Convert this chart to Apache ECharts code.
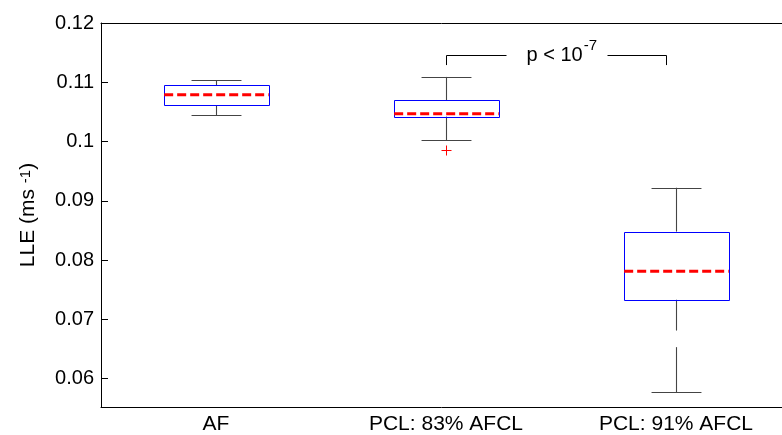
<!DOCTYPE html>
<html><head><meta charset="utf-8">
<script src="https://cdn.jsdelivr.net/npm/echarts@6/dist/echarts.min.js"></script>
<style>html,body{margin:0;padding:0;background:#fff}#c{width:782px;height:435px}</style>
</head><body><div id="c"></div>
<script>
const categories = ['AF', 'PCL: 83% AFCL', 'PCL: 91% AFCL'];
const whiskerLow = [0.1044, 0.1002, 0.0577];
const boxLow = [0.1061, 0.1042, 0.0733];
const medians = [0.1079, 0.1047, 0.0781];
const boxHigh = [0.1095, 0.1070, 0.0848];
const whiskerHigh = [0.1103, 0.1109, 0.0922];
const outliers = [[1, 0.0985]];
const whiskerGaps = [[2, 0.0653, 0.0681]];
const yTicks = [0.06, 0.07, 0.08, 0.09, 0.1, 0.11, 0.12];
const xTicks = [0, 1, 2];
const yMin = 0.0552, yMax = 0.12;
const xMin = -0.5, xMax = 2.461;
// bracket: left end, left line end, text start, right line start, right end (x in category units)
const bracketX = [1, 1.262, 1.348, 1.701, 1.957];
const bracketLevels = [0.1146, 0.1129];
const pText = 'p < 10', pSup = '-7';

const FONT = "'Liberation Sans', Arial, sans-serif";
const chart = echarts.init(document.getElementById('c'), null, {renderer: 'canvas'});

const mctx = document.createElement('canvas').getContext('2d');
function textW(t, size) { mctx.font = size + 'px ' + FONT; return mctx.measureText(t).width; }
const px = v => Math.round(v) + 0.5;

function renderBox(params, api) {
  const i = api.value(0);
  const band = api.size([1, 0])[0];
  const bw = band * 0.455, cw = band * 0.217;
  const cx = px(api.coord([i, 0])[0]);
  const y = k => api.coord([i, api.value(k)])[1];
  const yWL = y(1), yBL = y(2), yMed = y(3), yBH = y(4), yWH = y(5);
  const wStyle = {stroke: '#444', lineWidth: 1.1};
  const children = [];
  children.push({type: 'line', shape: {x1: cx, y1: yBH, x2: cx, y2: yWH}, style: wStyle});
  children.push({type: 'line', shape: {x1: cx - cw / 2, y1: px(yWH), x2: cx + cw / 2, y2: px(yWH)}, style: wStyle});
  const gap = whiskerGaps.find(g => g[0] === i);
  if (gap) {
    const gLo = api.coord([i, gap[1]])[1], gHi = api.coord([i, gap[2]])[1];
    children.push({type: 'line', shape: {x1: cx, y1: yBL, x2: cx, y2: gHi}, style: wStyle});
    children.push({type: 'line', shape: {x1: cx, y1: gLo, x2: cx, y2: yWL}, style: wStyle});
  } else {
    children.push({type: 'line', shape: {x1: cx, y1: yBL, x2: cx, y2: yWL}, style: wStyle});
  }
  children.push({type: 'line', shape: {x1: cx - cw / 2, y1: px(yWL), x2: cx + cw / 2, y2: px(yWL)}, style: wStyle});
  children.push({type: 'rect', shape: {x: px(cx - bw / 2), y: px(yBH), width: Math.round(bw), height: Math.round(yBL - yBH)},
    style: {fill: 'none', stroke: '#0000ff', lineWidth: 1}});
  children.push({type: 'line', shape: {x1: cx - bw / 2, y1: yMed, x2: cx + bw / 2, y2: yMed},
    style: {stroke: '#ff0000', lineWidth: 3, lineDash: [9, 4]}});
  return {type: 'group', children};
}

function renderOutlier(params, api) {
  const p = api.coord([api.value(0), api.value(1)]);
  const s = 5, x = px(p[0]), yy = px(p[1]);
  const st = {stroke: '#ff0000', lineWidth: 1};
  return {type: 'group', children: [
    {type: 'line', shape: {x1: x - s, y1: yy, x2: x + s, y2: yy}, style: st},
    {type: 'line', shape: {x1: x, y1: yy - s, x2: x, y2: yy + s}, style: st}
  ]};
}

function renderBracket(params, api) {
  const top = api.value(0), foot = api.value(1);
  const X = bracketX.map(v => px(api.coord([v, top])[0]));
  const yTop = px(api.coord([bracketX[0], top])[1]);
  const yFoot = api.coord([bracketX[0], foot])[1];
  const st = {stroke: '#000', lineWidth: 1};
  const mainW = textW(pText, 20);
  return {type: 'group', children: [
    {type: 'line', shape: {x1: X[0], y1: yTop, x2: X[0], y2: yFoot}, style: st},
    {type: 'line', shape: {x1: X[0], y1: yTop, x2: X[1], y2: yTop}, style: st},
    {type: 'line', shape: {x1: X[3], y1: yTop, x2: X[4], y2: yTop}, style: st},
    {type: 'line', shape: {x1: X[4], y1: yTop, x2: X[4], y2: yFoot}, style: st},
    {type: 'text', x: X[2], y: yTop, style: {text: pText, font: '20px ' + FONT, fill: '#000', align: 'left', verticalAlign: 'middle'}},
    {type: 'text', x: X[2] + mainW + 1, y: yTop - 10, style: {text: pSup, font: '15px ' + FONT, fill: '#000', align: 'left', verticalAlign: 'middle'}}
  ]};
}

const option = {
  animation: false,
  backgroundColor: '#fff',
  grid: {left: 101, right: 0, top: 23, bottom: 28},
  xAxis: [{
    type: 'value', min: xMin, max: xMax,
    axisLine: {show: true, onZero: false, lineStyle: {color: '#000', width: 1}},
    axisTick: {show: false},
    axisLabel: {color: '#000', fontSize: 21, fontFamily: FONT, margin: 7, customValues: xTicks,
      formatter: v => categories[Math.round(v)] || ''},
    splitLine: {show: false}
  }, {
    type: 'value', position: 'top', min: xMin, max: xMax,
    axisLine: {show: true, onZero: false, lineStyle: {color: '#000', width: 1}},
    axisTick: {show: false}, axisLabel: {show: false}, splitLine: {show: false}
  }],
  yAxis: {
    type: 'value', min: yMin, max: yMax,
    name: '{a|LLE (ms }{s|-1}{a|)}',
    nameLocation: 'middle', nameGap: 62, nameRotate: 90,
    nameTextStyle: {
      color: '#000', fontFamily: FONT,
      rich: {
        a: {fontSize: 21, fontFamily: FONT, color: '#000', lineHeight: 21, verticalAlign: 'bottom'},
        s: {fontSize: 15, fontFamily: FONT, color: '#000', lineHeight: 15, verticalAlign: 'top', padding: [0, 0, 10, 0]}
      }
    },
    axisLine: {show: true, onZero: false, lineStyle: {color: '#000', width: 1}},
    axisTick: {show: true, inside: true, length: 7, lineStyle: {color: '#000'}, customValues: yTicks},
    axisLabel: {color: '#000', fontSize: 20, fontFamily: FONT, margin: 7, customValues: yTicks,
      formatter: v => String(Number(v.toFixed(3)))},
    splitLine: {show: false}
  },
  series: [
    {type: 'custom', renderItem: renderBox, clip: false,
     encode: {x: 0, y: [1, 2, 3, 4, 5]},
     data: categories.map((c, i) => [i, whiskerLow[i], boxLow[i], medians[i], boxHigh[i], whiskerHigh[i]])},
    {type: 'custom', renderItem: renderOutlier, encode: {x: 0, y: 1}, data: outliers},
    {type: 'custom', renderItem: renderBracket, clip: false, encode: {y: 0},
     data: [[bracketLevels[0], bracketLevels[1]]]}
  ]
};
chart.setOption(option);
</script>
</body></html>
